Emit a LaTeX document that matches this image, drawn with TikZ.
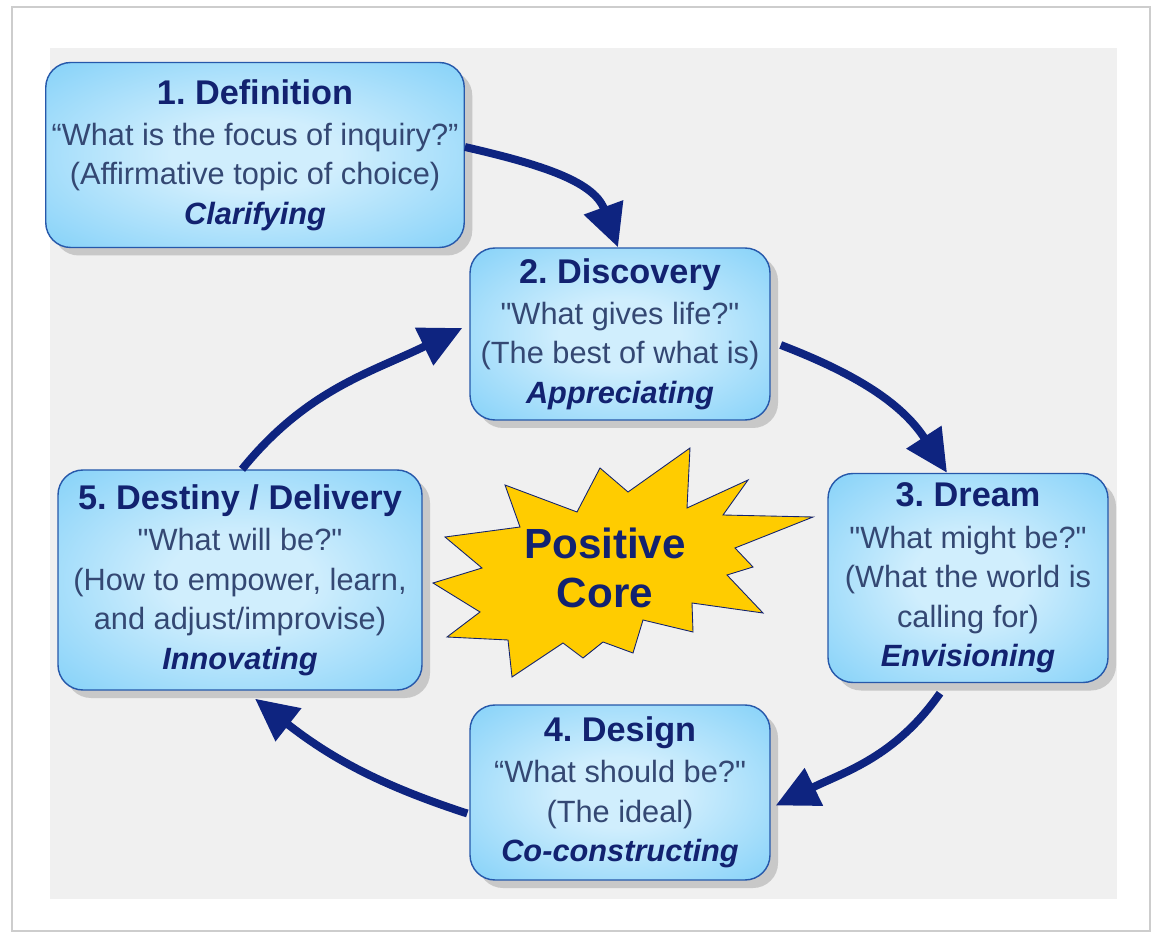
\documentclass[tikz,border=0pt]{standalone}
\usepackage{fontspec}
\setmainfont{Liberation Sans}[Ligatures=TeXOff]
\usetikzlibrary{arrows.meta, shadows}

\definecolor{navy}{RGB}{18,34,112}
\definecolor{bodyblue}{RGB}{52,72,115}
\definecolor{arrowblue}{RGB}{14,36,128}
\definecolor{boxedge}{RGB}{92,194,246}
\definecolor{boxcenter}{RGB}{208,238,253}
\definecolor{boxline}{RGB}{38,88,170}
\definecolor{coreyellow}{RGB}{255,204,0}
\definecolor{pagegrey}{RGB}{240,240,240}
\definecolor{shadowgrey}{RGB}{200,200,200}
\definecolor{framegrey}{RGB}{205,205,205}

\pgfdeclareradialshading{boxglow}{\pgfpoint{0bp}{0bp}}{color(0bp)=(boxcenter); color(10bp)=(boxcenter); color(50bp)=(boxedge)}

\newcommand{\phasetitle}[1]{{\fontsize{19.5}{24}\selectfont\bfseries\color{navy}#1}}
\newcommand{\phaseverb}[1]{{\bfseries\itshape\color{navy}#1}}

\tikzstyle{phase} = [rectangle, rounded corners=0.5cm, draw=boxline, line width=0.8pt, shade, shading=boxglow, align=center, text=bodyblue, font=\fontsize{17.5}{22.5}\selectfont\frenchspacing, drop shadow={shadow xshift=0.16cm, shadow yshift=-0.16cm, fill=shadowgrey, opacity=1}]
\tikzstyle{arrow} = [arrowblue, line width=4.5pt, -{Triangle[length=0.85cm, width=0.8cm]}]
\tikzstyle{corelabel} = [align=center, text=navy, font=\fontsize{24}{28}\selectfont\bfseries]

\begin{document}
\begin{tikzpicture}
    \useasboundingbox (0,0) rectangle (23.12,-18.66);
    %Page
    \draw [framegrey, line width=1pt] (0.24,-0.14) rectangle (23.0,-18.62);
    \fill [pagegrey] (1.0,-0.96) rectangle (22.34,-17.98);

    %Star
    \draw [fill=coreyellow, draw=navy, line width=0.5pt] (8.66,-11.66) -- (9.64,-11.36) -- (8.90,-10.74) -- (10.40,-10.54) -- (10.10,-9.70) -- (11.54,-10.24) -- (12.00,-9.36) -- (12.56,-9.84) -- (13.80,-8.96) -- (13.74,-10.16) -- (14.96,-9.60) -- (14.46,-10.30) -- (16.26,-10.34) -- (14.70,-10.96) -- (15.06,-11.34) -- (14.54,-11.50) -- (15.26,-12.26) -- (13.84,-12.06) -- (13.86,-12.64) -- (12.86,-12.40) -- (12.66,-13.06) -- (12.06,-12.84) -- (11.66,-13.16) -- (11.26,-12.86) -- (10.24,-13.54) -- (10.16,-12.80) -- (8.94,-12.74) -- (9.60,-12.24) -- cycle;

    %Main Nodes
    \node (def) [phase, minimum width=8.2cm, minimum height=3.7cm] at (5.10,-3.10) {\phasetitle{1. Definition}\\[1pt] “What is the focus of inquiry?”\\ (Affirmative topic of choice)\\ \phaseverb{Clarifying}};
    \node (disc) [phase, right of=def, xshift=6.30cm, yshift=-3.58cm, minimum width=6.0cm, minimum height=3.44cm] {\phasetitle{2. Discovery}\\[1pt] "What gives life?"\\ (The best of what is)\\ \phaseverb{Appreciating}};
    \node (dream) [phase, right of=disc, xshift=5.96cm, yshift=-4.88cm, minimum width=5.6cm, minimum height=4.18cm] {\phasetitle{3. Dream}\\[1pt] "What might be?"\\ (What the world is\\ calling for)\\ \phaseverb{Envisioning}};
    \node (design) [phase, below of=disc, yshift=-8.17cm, minimum width=6.0cm, minimum height=3.5cm] {\phasetitle{4. Design}\\[1pt] “What should be?"\\ (The ideal)\\ \phaseverb{Co-constructing}};
    \node (dest) [phase, left of=disc, xshift=-6.60cm, yshift=-4.92cm, minimum width=7.28cm, minimum height=4.4cm] {\phasetitle{5. Destiny / Delivery}\\[1pt] "What will be?"\\ (How to empower, learn,\\ and adjust/improvise)\\ \phaseverb{Innovating}};

    %Centre Node
    \node (core) [corelabel, below of=disc, xshift=-0.30cm, yshift=-3.68cm] {Positive\\Core};

    %Arrows
    \draw [arrow] ([yshift=0.16cm]def.east) to[out=-13, in=110] ([xshift=-0.04cm]disc.north);
    \draw [arrow] ([shift={(0.2,-0.22)}]disc.east) to[out=-21, in=123] ([xshift=-0.42cm]dream.north);
    \draw [arrow] ([shift={(-0.56,-0.2)}]dream.south) to[out=-125, in=26] ([shift={(0.1,-0.26)}]design.east);
    \draw [arrow] ([shift={(-0.04,-0.42)}]design.west) to[out=162, in=-38] ([shift={(0.3,-0.16)}]dest.south);
    \draw [arrow] ([xshift=0.04cm]dest.north) to[out=51, in=-154] ([shift={(-0.14,0.12)}]disc.west);

\end{tikzpicture}
\end{document}
